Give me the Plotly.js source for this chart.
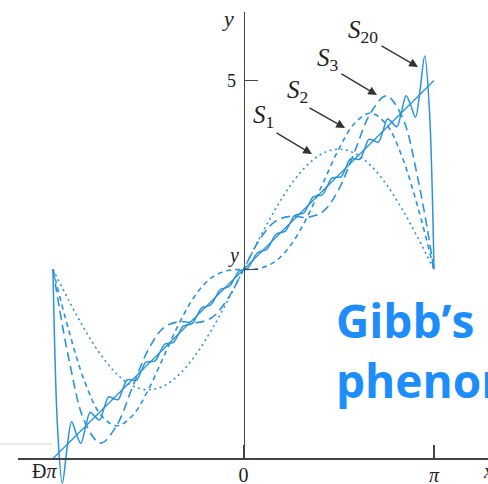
<!DOCTYPE html>
<html>
<head>
<meta charset="utf-8">
<script src="https://cdn.plot.ly/plotly-3.0.1.min.js"></script>
<style>html,body{margin:0;padding:0;background:#fff;}#chart{width:488px;height:484px;}</style>
</head>
<body>
<div id="chart"></div>
<script>
// Target function f(x) (straight line)
const xF = [-3.1416, 3.1416];
const yF = [0, 5];

// Partial sums S1, S2, S3 read at x = -pi ... pi (step pi/12)
const xS = [-3.1416, -2.8798, -2.6180, -2.3562, -2.0944, -1.8326, -1.5708, -1.3090, -1.0472, -0.7854, -0.5236, -0.2618, 0,
            0.2618, 0.5236, 0.7854, 1.0472, 1.3090, 1.5708, 1.8326, 2.0944, 2.3562, 2.6180, 2.8798, 3.1416];
const yS1 = [2.5, 2.0881, 1.7042, 1.3746, 1.1217, 0.9627, 0.9084, 0.9627, 1.1217, 1.3746, 1.7042, 2.0881, 2.5,
             2.9119, 3.2958, 3.6254, 3.8783, 4.0373, 4.0916, 4.0373, 3.8783, 3.6254, 3.2958, 2.9119, 2.5];
const yS2 = [2.5, 1.6902, 1.0151, 0.5788, 0.4325, 0.5648, 0.9084, 1.3606, 1.8108, 2.1704, 2.3934, 2.4860, 2.5,
             2.5140, 2.6066, 2.8296, 3.1892, 3.6394, 4.0916, 4.4352, 4.5675, 4.4212, 3.9849, 3.3098, 2.5];
const yS3 = [2.5, 1.3151, 0.4846, 0.2037, 0.4325, 0.9399, 1.4390, 1.7357, 1.8108, 1.7952, 1.8629, 2.1108, 2.5,
             2.8892, 3.1371, 3.2048, 3.1892, 3.2643, 3.5610, 4.0601, 4.5675, 4.7963, 4.5154, 3.6849, 2.5];

// Partial sum S20
const xS20 = [-3.1416, -3.0650, -2.9884, -2.9117, -2.8351, -2.7585, -2.6819, -2.6052, -2.5286, -2.4520, -2.3754,
              -2.2987, -2.2221, -2.1455, -2.0689, -1.9922, -1.9156, -1.8390, -1.7624, -1.6857, -1.6091, -1.5325,
              -1.4559, -1.3792, -1.3026, -1.2260, -1.1494, -1.0727, -0.9961, -0.9195, -0.8429, -0.7662, -0.6896,
              -0.6130, -0.5364, -0.4597, -0.3831, -0.3065, -0.2299, -0.1532, -0.0766, 0,
              0.0766, 0.1532, 0.2299, 0.3065, 0.3831, 0.4597, 0.5364, 0.6130, 0.6896, 0.7662, 0.8429, 0.9195,
              0.9961, 1.0727, 1.1494, 1.2260, 1.3026, 1.3792, 1.4559, 1.5325, 1.6091, 1.6857, 1.7624, 1.8390,
              1.9156, 1.9922, 2.0689, 2.1455, 2.2221, 2.2987, 2.3754, 2.4520, 2.5286, 2.6052, 2.6819, 2.7585,
              2.8351, 2.9117, 2.9884, 3.0650, 3.1416];
const yS20 = [2.5, 0.3793, -0.3255, 0.1231, 0.4868, 0.3287, 0.2004, 0.4143, 0.6130, 0.5565, 0.5084,
              0.6707, 0.8171, 0.7927, 0.7795, 0.9146, 1.0415, 1.0366, 1.0380, 1.1585, 1.2741, 1.2805,
              1.2907, 1.4024, 1.5110, 1.5244, 1.5403, 1.6463, 1.7504, 1.7683, 1.7878, 1.8902, 1.9915,
              2.0122, 2.0339, 2.1341, 2.2337, 2.2561, 2.2790, 2.3780, 2.4769, 2.5,
              2.5231, 2.6220, 2.7210, 2.7439, 2.7663, 2.8659, 2.9661, 2.9878, 3.0085, 3.1098, 3.2122, 3.2317,
              3.2496, 3.3537, 3.4597, 3.4756, 3.4890, 3.5976, 3.7093, 3.7195, 3.7259, 3.8415, 3.9620, 3.9634,
              3.9585, 4.0854, 4.2205, 4.2073, 4.1829, 4.3293, 4.4916, 4.4435, 4.3870, 4.5857, 4.7996, 4.6713,
              4.5132, 4.8769, 5.3255, 4.6207, 2.5];

// Axis ticks
const xTickVals = [0, 3.1416];
const xTickText = ['0', '<i>π</i>'];
const yTickVals = [2.5, 5];
const yTickText = ['', '5'];

// Curve labels and arrow heads
const labels = ['<i>S</i><sub>1</sub>', '<i>S</i><sub>2</sub>', '<i>S</i><sub>3</sub>', '<i>S</i><sub>20</sub>'];
const headX = [1.1296, 1.674, 2.2015, 2.8777];
const headY = [4.028, 4.372, 4.808, 5.179];

const blue = '#2a93dd';
const serif = 'Liberation Serif, Times New Roman, serif';

const traces = [
  {x: xF, y: yF, mode: 'lines', line: {color: blue, width: 1.3}},
  {x: xS, y: yS1, mode: 'lines', line: {color: blue, width: 1.6, dash: '2px,3.5px', shape: 'spline'}},
  {x: xS, y: yS2, mode: 'lines', line: {color: blue, width: 1.6, dash: '5px,4px', shape: 'spline'}},
  {x: xS, y: yS3, mode: 'lines', line: {color: blue, width: 1.6, dash: '9px,5px', shape: 'spline'}},
  {x: xS20, y: yS20, mode: 'lines', line: {color: blue, width: 1.5, shape: 'spline'}},
  {x: [], y: [], xaxis: 'x2', yaxis: 'y2', mode: 'lines', hoverinfo: 'skip'}
];

// arrow tail offsets (px) and label offsets (px) relative to arrow heads
const tailOff = [[-37, -22], [-37, -21], [-37, -22], [-38, -22]];
const labOff = [[-48, -37], [-48, -36], [-49, -36], [-55, -35]];

const annotations = [];
for (let i = 0; i < labels.length; i++) {
  annotations.push({xref: 'x', yref: 'y', x: headX[i], y: headY[i], ax: tailOff[i][0], ay: tailOff[i][1],
    text: ' ', font: {size: 1}, showarrow: true, arrowhead: 2, arrowsize: 1.25, arrowwidth: 1.4, arrowcolor: '#333'});
  annotations.push({xref: 'x', yref: 'y', x: headX[i], y: headY[i], xshift: labOff[i][0], yshift: -labOff[i][1],
    text: labels[i], showarrow: false, font: {family: serif, size: 25, color: '#222'}});
}
annotations.push(
  {xref: 'x', yref: 'paper', x: -3.1416, xshift: -8, y: 0.0268, text: 'Ð<i>π</i>', showarrow: false,
   font: {family: serif, size: 20, color: '#222'}, xanchor: 'center', yanchor: 'middle'},
  {xref: 'paper', yref: 'paper', x: 0.9857, y: 0.0268, text: '<i>x</i>', showarrow: false,
   font: {family: serif, size: 20, color: '#222'}, xanchor: 'left', yanchor: 'middle'},
  {xref: 'paper', yref: 'paper', x: 0.4672, y: 0.962, text: '<i>y</i>', showarrow: false,
   font: {family: serif, size: 22, color: '#222'}, xanchor: 'center', yanchor: 'middle'},
  {xref: 'paper', yref: 'paper', x: 0.4785, y: 0.4711, text: '<i>y</i>', showarrow: false,
   font: {family: serif, size: 20, color: '#222'}, xanchor: 'center', yanchor: 'middle'},
  {xref: 'paper', yref: 'paper', x: 0.6845, y: 0.277, text: 'Gibb’s<br>phenomenon', showarrow: false,
   align: 'left', xanchor: 'left', yanchor: 'middle',
   font: {family: 'Open Sans, Noto Sans, sans-serif', size: 46, color: '#1c8dfb', weight: 'bold'}}
);

const layout = {
  width: 488, height: 484,
  margin: {l: 0, r: 0, t: 0, b: 0},
  paper_bgcolor: '#ffffff', plot_bgcolor: 'rgba(0,0,0,0)',
  showlegend: false,
  xaxis: {
    domain: [0.0369, 1], range: [-3.7187, 4.0320],
    anchor: 'free', position: 0.0527,
    showline: true, linecolor: '#444', linewidth: 1.5,
    ticks: 'inside', ticklen: 13, tickwidth: 1.5, tickcolor: '#444',
    tickmode: 'array', tickvals: xTickVals, ticktext: xTickText,
    tickfont: {family: serif, size: 20, color: '#222'}, ticklabelstandoff: -2,
    showgrid: false, zeroline: false, fixedrange: true
  },
  yaxis: {
    domain: [0, 1], range: [-0.3373, 6.0648],
    visible: false, showgrid: false, zeroline: false, fixedrange: true
  },
  xaxis2: {
    domain: [0, 1], range: [0, 1], anchor: 'y2', visible: false, fixedrange: true
  },
  yaxis2: {
    domain: [0.05165, 0.97521], range: [-0.0066, 5.9061],
    anchor: 'free', position: 0.49898, side: 'left',
    showline: true, linecolor: '#444', linewidth: 1.5,
    ticks: 'inside', ticklen: 13, tickwidth: 1.5, tickcolor: '#444',
    tickmode: 'array', tickvals: yTickVals, ticktext: yTickText,
    tickfont: {family: serif, size: 18, color: '#222'}, ticklabelstandoff: 4,
    showgrid: false, zeroline: false, fixedrange: true
  },
  shapes: [
    {type: 'line', xref: 'paper', yref: 'paper', x0: 0, x1: 0.107, y0: 0.0826, y1: 0.0826,
     line: {color: '#d9d9cf', width: 1}}
  ],
  annotations: annotations
};

Plotly.newPlot('chart', traces, layout, {displayModeBar: false, staticPlot: true});
</script>
</body>
</html>
